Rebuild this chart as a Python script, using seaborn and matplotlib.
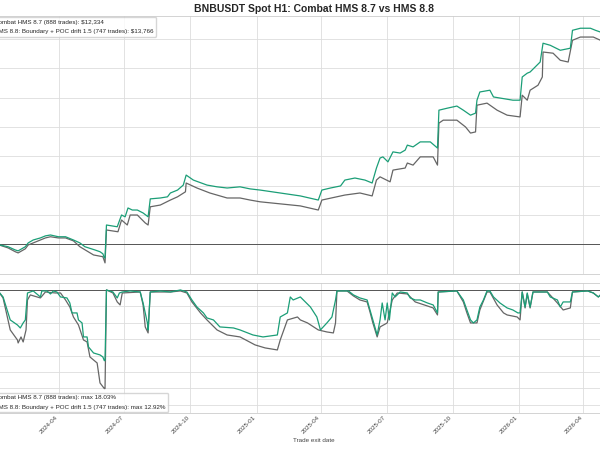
import pandas as pd
import matplotlib
matplotlib.use("Agg")
import matplotlib.pyplot as plt
import matplotlib.dates as mdates
import seaborn as sns

## BNBUSDT Spot H1 - equity + drawdown, HMS 8.7 vs HMS 8.8

sns.set_theme(style="whitegrid")
plt.rcParams['font.family'] = ['Liberation Sans', 'DejaVu Sans']

START = pd.Timestamp("2024-01-10")
START_CAPITAL = 10000

# --- equity curves (days since START, equity $) ---
eq87_days = [-4, 11, 21, 25, 35, 39, 46, 56, 63, 70, 81, 91, 102, 111, 130, 143, 146, 148,
             164, 169, 177, 181, 191, 202, 206, 209, 223, 237, 247, 258, 259, 274, 292, 316,
             334, 348, 362, 390, 418, 443, 448, 480, 501, 518, 524, 529, 543, 547, 564, 567,
             575, 585, 603, 609, 611, 617, 636, 648, 655, 662, 664, 678, 692, 706, 724, 727,
             734, 738, 749, 755, 756, 770, 780, 791, 797, 808, 826, 836, 850]
eq87_vals = [10000, 9880, 9750, 9710, 9850, 9980, 10050, 10150, 10220, 10260, 10220, 10220,
             10120, 9920, 9640, 9580, 9370, 10490, 10430, 10830, 10660, 11000, 11000, 10730,
             10660, 11280, 11340, 11510, 11620, 11790, 12090, 11920, 11750, 11580, 11580, 11510,
             11450, 11380, 11310, 11170, 11510, 11680, 11750, 11650, 12190, 12300, 12130, 12530,
             12600, 12770, 12700, 12980, 12980, 12700, 14130, 14230, 14230, 14000, 13790, 13830,
             14740, 14810, 14570, 14400, 14340, 15080, 14910, 15250, 15420, 15700, 16550, 16510,
             16270, 16210, 16950, 17060, 17060, 16950, 16950]

eq88_days = [-4, 11, 21, 25, 35, 39, 46, 56, 63, 70, 81, 91, 102, 111, 118, 132, 139, 143, 145,
             146, 148, 163, 169, 174, 178, 184, 191, 199, 206, 209, 223, 233, 237, 247, 255, 259,
             269, 288, 302, 316, 334, 348, 362, 390, 418, 443, 448, 460, 474, 480, 494, 508, 518,
             524, 529, 533, 540, 547, 557, 564, 567, 575, 585, 599, 609, 611, 623, 636, 645, 655,
             662, 664, 668, 682, 687, 714, 724, 727, 734, 738, 745, 752, 756, 766, 780, 794, 797,
             808, 822, 829, 836, 850]
eq88_vals = [10000, 9920, 9810, 9780, 9920, 10050, 10150, 10220, 10290, 10320, 10260, 10260,
             10150, 10050, 9920, 9810, 9750, 9680, 9540, 9540, 10660, 10600, 11000, 10940, 11240,
             11170, 11170, 11070, 10940, 11550, 11580, 11620, 11750, 11850, 12020, 12360, 12190,
             12020, 11960, 11920, 11960, 11890, 11850, 11750, 11650, 11510, 11850, 11920, 11990,
             12190, 12260, 12190, 12090, 12600, 12940, 12980, 12810, 13150, 13110, 13210, 13380,
             13320, 13490, 13490, 13280, 14570, 14640, 14710, 14570, 14400, 14470, 14910, 15190,
             15250, 15020, 14910, 14910, 15700, 15830, 15870, 16040, 16210, 16850, 16780, 16610,
             16680, 17290, 17360, 17360, 17290, 17230, 17230]

# --- drawdown curves (days since START, drawdown %) ---
dd87_days = [-4, 4, 14, 24, 25, 29, 32, 36, 38, 42, 56, 63, 77, 84, 91, 97, 102, 109, 116, 121,
             125, 135, 139, 145, 146, 148, 157, 163, 167, 170, 195, 199, 202, 206, 209, 237, 251,
             260, 267, 279, 288, 302, 316, 334, 355, 369, 386, 390, 400, 414, 418, 428, 443, 455,
             464, 467, 469, 483, 492, 501, 511, 515, 519, 525, 529, 539, 546, 553, 567, 578, 595,
             603, 609, 610, 636, 645, 650, 655, 664, 668, 678, 682, 692, 701, 706, 720, 724, 727,
             731, 734, 738, 742, 762, 776, 784, 794, 797, 818, 826, 833, 836, 850]
dd87_vals = [0, -1.46, -7.31, -9.14, -9.69, -8.59, -9.51, -7.31, -1.83, -0.91, -1.46, -0.37,
             -0.55, -0.55, -1.83, -3.11, -4.94, -6.40, -9.14, -9.51, -12.25, -13.35, -17.0,
             -18.03, -18.03, 0, -0.55, -2.19, -2.74, -0.55, -0.37, -2.74, -6.76, -7.86, -0.37,
             -0.37, -0.18, -0.55, -2.19, -4.20, -5.48, -7.31, -8.23, -8.59, -10.05, -10.6,
             -10.97, -9.14, -5.48, -4.94, -5.48, -6.03, -7.31, -7.68, -7.86, -6.03, -0.18, -0.18,
             -1.10, -1.83, -2.19, -4.02, -6.03, -8.59, -6.76, -6.03, -1.83, -0.55, -0.73, -2.19,
             -2.93, -3.29, -4.57, -0.37, -0.18, -2.19, -4.20, -6.03, -6.03, -3.66, -0.37, -0.37,
             -2.74, -4.20, -4.57, -4.94, -5.48, -0.37, -3.29, -0.73, -3.29, -0.37, -0.37, -2.38,
             -3.66, -3.29, -0.37, -0.18, -0.55, -1.28, -0.91, -0.5]

dd88_days = [-4, 4, 14, 24, 28, 32, 35, 38, 46, 56, 58, 65, 70, 74, 79, 84, 93, 97, 100, 107,
             109, 114, 116, 121, 123, 130, 139, 143, 145, 146, 148, 157, 163, 166, 170, 181, 195,
             199, 205, 206, 209, 223, 237, 251, 260, 267, 274, 283, 288, 297, 306, 325, 334, 352,
             366, 386, 390, 400, 404, 408, 418, 432, 441, 446, 455, 462, 467, 469, 485, 492, 501,
             511, 515, 519, 525, 529, 532, 536, 539, 542, 546, 550, 557, 567, 571, 578, 585, 595,
             603, 609, 610, 636, 645, 650, 655, 659, 664, 668, 673, 678, 682, 687, 696, 706, 714,
             721, 724, 727, 731, 734, 738, 742, 762, 766, 776, 780, 784, 794, 797, 818, 826, 833,
             836, 850]
dd88_vals = [0, -1.28, -5.48, -6.40, -6.95, -6.03, -5.48, -0.55, -0.18, -1.28, -0.18, -0.18,
             -0.73, -0.18, -0.37, -1.28, -1.46, -2.38, -4.20, -4.20, -5.48, -6.03, -8.59, -8.59,
             -10.42, -11.52, -11.88, -12.25, -12.92, -12.92, 0, -0.37, -1.46, -0.55, -0.37,
             -0.18, -0.37, -2.38, -6.03, -7.31, -0.37, -0.18, -0.37, 0, -0.37, -1.83, -3.11,
             -4.20, -5.12, -5.48, -6.76, -6.95, -7.31, -8.23, -8.59, -8.23, -4.94, -4.20, -1.28,
             -1.83, -1.28, -3.11, -4.94, -7.31, -6.03, -4.94, -1.83, -0.18, -0.18, -0.91, -1.46,
             -1.83, -3.66, -5.48, -8.23, -5.48, -2.38, -5.48, -2.38, -5.48, -0.55, -1.28, -0.37,
             -0.55, -1.46, -1.83, -1.83, -2.38, -2.74, -4.20, -0.37, -0.18, -1.83, -3.66, -5.48,
             -6.03, -5.48, -3.11, -1.83, -0.18, -0.18, -1.28, -2.38, -3.29, -3.66, -4.20, -4.20,
             -0.37, -3.11, -0.55, -3.11, -0.37, -0.37, -1.28, -1.83, -3.11, -2.19, -2.19, -0.37,
             -0.18, -0.55, -1.28, -0.91, -0.5]

labels_eq = ["Combat HMS 8.7 (888 trades): $12,334",
             "HMS 8.8: Boundary + POC drift 1.5 (747 trades): $13,766"]
labels_dd = ["Combat HMS 8.7 (888 trades): max 18.03%",
             "HMS 8.8: Boundary + POC drift 1.5 (747 trades): max 12.92%"]
colors = ["#666666", "#1b9e77"]


def to_dates(days):
    return START + pd.to_timedelta(days, unit="D")


fig = plt.figure(figsize=(6, 4.5), dpi=100)
# figure is a crop of a wider canvas: axes run past both sides
ax_eq = fig.add_axes([-0.0667, 0.391, 1.18, 0.573])
ax_dd = fig.add_axes([-0.0667, 0.0822, 1.18, 0.289], sharex=ax_eq)

for days, vals, c, lab in [(eq87_days, eq87_vals, colors[0], labels_eq[0]),
                           (eq88_days, eq88_vals, colors[1], labels_eq[1])]:
    sns.lineplot(x=to_dates(days), y=vals, estimator=None, sort=False, color=c,
                 lw=0.9, ax=ax_eq, label=lab)
for days, vals, c, lab in [(dd87_days, dd87_vals, colors[0], labels_dd[0]),
                           (dd88_days, dd88_vals, colors[1], labels_dd[1])]:
    sns.lineplot(x=to_dates(days), y=vals, estimator=None, sort=False, color=c,
                 lw=0.9, ax=ax_dd, label=lab)

ax_eq.axhline(START_CAPITAL, color="#555555", lw=0.7, zorder=1)
ax_dd.axhline(0, color="#555555", lw=0.7, zorder=1)

ax_eq.set_ylim(8990, 17770)
ax_eq.set_yticks(range(9000, 18000, 1000))
ax_dd.set_ylim(-22.5, 1.28)
ax_dd.set_yticks(range(-21, 1, 3))

ax_eq.set_xlim(pd.Timestamp("2023-11-15"), pd.Timestamp("2026-07-28"))
ax_dd.xaxis.set_major_locator(mdates.MonthLocator(bymonth=[1, 4, 7, 10]))
ax_dd.xaxis.set_major_formatter(mdates.DateFormatter("%Y-%m"))
ax_eq.tick_params(labelbottom=False, length=0)
ax_dd.tick_params(axis="x", labelsize=4.5, pad=1.5, length=0, colors="#444444")
plt.setp(ax_dd.get_xticklabels(), rotation=45, ha="right")

for ax in (ax_eq, ax_dd):
    ax.grid(True, color="#dddddd", lw=0.6)
    for s in ax.spines.values():
        s.set_color("#cccccc")
        s.set_linewidth(0.6)
    # y labels sit outside the cropped canvas, so they are not drawn
    ax.tick_params(axis="y", labelleft=False, length=0)
    ax.set_ylabel("")
ax_eq.set_xlabel("")

ax_eq.set_title("BNBUSDT Spot H1: Combat HMS 8.7 vs HMS 8.8", fontsize=7.5,
                fontweight="bold", pad=3)
ax_dd.set_xlabel("Trade exit date", fontsize=4.5, labelpad=2, color="#444444")

ax_eq.legend(loc="upper left", bbox_to_anchor=(-26 / 600, 1 - 17 / 450),
             bbox_transform=fig.transFigure, borderaxespad=0, fontsize=4.5,
             labelspacing=0.6, frameon=True, edgecolor="#cccccc")
ax_dd.legend(loc="lower left", bbox_to_anchor=(-26 / 600, 1 - 412 / 450),
             bbox_transform=fig.transFigure, borderaxespad=0, fontsize=4.5,
             labelspacing=0.6, frameon=True, edgecolor="#cccccc")

fig.savefig("out.png", dpi=100)
